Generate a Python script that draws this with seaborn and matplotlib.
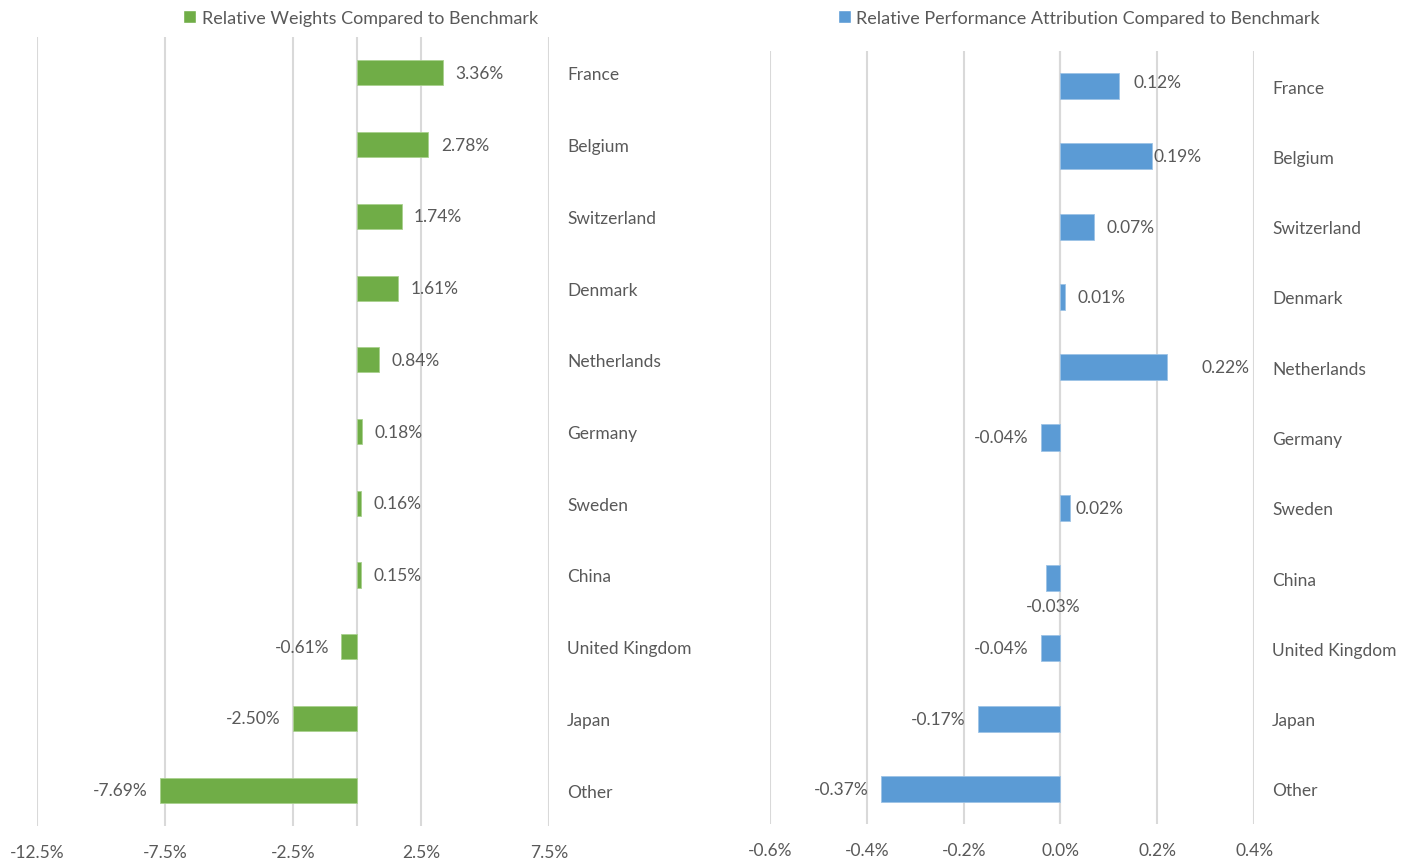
import matplotlib
matplotlib.use("Agg")
import matplotlib.pyplot as plt
from matplotlib.patches import Patch
import seaborn as sns
import pandas as pd

countries = ["France", "Belgium", "Switzerland", "Denmark", "Netherlands", "Germany",
             "Sweden", "China", "United Kingdom", "Japan", "Other"]
rel_weights = [3.36, 2.78, 1.74, 1.61, 0.84, 0.18, 0.16, 0.15, -0.61, -2.50, -7.69]
rel_perf = [0.12, 0.19, 0.07, 0.01, 0.22, -0.04, 0.02, -0.03, -0.04, -0.17, -0.37]

weights_ticks = [-12.5, -7.5, -2.5, 2.5, 7.5]
perf_ticks = [-0.6, -0.4, -0.2, 0.0, 0.2, 0.4]

GREEN = "#70AD47"
BLUE = "#5B9BD5"
GRID = "#D9D9D9"
TXT = "#595959"

sns.set_style("white")
plt.rcParams['font.family'] = ['Lato', 'DejaVu Sans']

df = pd.DataFrame({"country": countries, "weight": rel_weights, "perf": rel_perf})

fig = plt.figure(figsize=(14.14, 8.62), dpi=100)
ax1 = fig.add_axes([0.0262, 0.0406, 0.3621, 0.9153])
ax2 = fig.add_axes([0.5446, 0.0429, 0.3423, 0.8968])

sns.barplot(data=df, x="weight", y="country", orient="h", color=GREEN, width=0.35,
            saturation=1, ax=ax1, edgecolor="#a9d18e", linewidth=0.6)
sns.barplot(data=df, x="perf", y="country", orient="h", color=BLUE, width=0.37,
            saturation=1, ax=ax2, edgecolor="#9dc3e6", linewidth=0.6)

# label offsets in points (dx, dy), tuned to the original placement
left_off = [(9, 0)] * len(countries)
right_off = [(11, 3), (1, 0), (9, 0), (9, 0), (25, 0), (-9, 0), (4, 0), (0, -20), (-9, 0), (-9, 0), (-9, 0)]

for ax, vals, offs in [(ax1, rel_weights, left_off), (ax2, rel_perf, right_off)]:
    for i, (v, (dx, dy)) in enumerate(zip(vals, offs)):
        if dy != 0 and dx == 0:
            ha = "center"
            xpos = v / 2
        else:
            ha = "left" if v >= 0 else "right"
            xpos = v
            if v < 0:
                dx = -abs(dx)
        ax.annotate(f"{v:.2f}%", (xpos, i), xytext=(dx, dy), textcoords="offset points",
                    ha=ha, va="center", fontsize=12.5, color=TXT)

ax1.set_xlim(-12.5, 7.5)
ax1.set_xticks(weights_ticks)
ax1.set_xticklabels([f"{t:.1f}%" for t in weights_ticks])
ax2.set_xlim(-0.6, 0.4)
ax2.set_xticks(perf_ticks)
ax2.set_xticklabels([f"{t:.1f}%" for t in perf_ticks])

for ax in (ax1, ax2):
    ax.set_ylim(len(countries) - 0.5, -0.5)
    ax.grid(axis="x", color=GRID, linewidth=1.5)
    ax.set_axisbelow(True)
    ax.axvline(0, color=GRID, linewidth=1.5, zorder=0.5)
    for s in ax.spines.values():
        s.set_visible(False)
    ax.yaxis.tick_right()
    ax.tick_params(axis="y", length=0, pad=13, labelsize=12.5, labelcolor=TXT)
    ax.tick_params(axis="x", length=0, pad=13, labelsize=12.5, labelcolor=TXT)
    ax.set_xlabel("")
    ax.set_ylabel("")

fig.legend(handles=[Patch(facecolor=GREEN, label="Relative Weights Compared to Benchmark")],
           loc="center", bbox_to_anchor=(0.255, 0.978), frameon=False, fontsize=13,
           handlelength=0.7, handleheight=0.7, handletextpad=0.3, labelcolor=TXT)
fig.legend(handles=[Patch(facecolor=BLUE, label="Relative Performance Attribution Compared to Benchmark")],
           loc="center", bbox_to_anchor=(0.763, 0.978), frameon=False, fontsize=13,
           handlelength=0.7, handleheight=0.7, handletextpad=0.3, labelcolor=TXT)

fig.savefig("out.png", dpi=100)
